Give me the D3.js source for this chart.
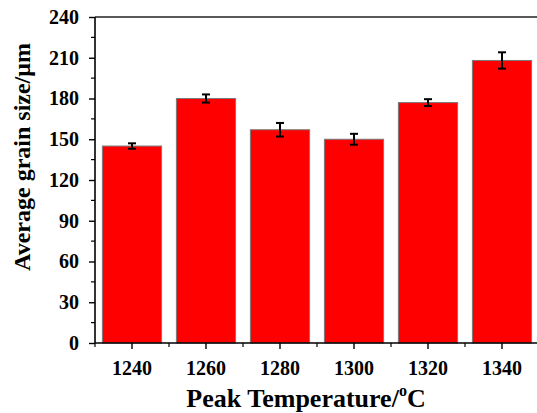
<!DOCTYPE html>
<html>
<head>
<meta charset="utf-8">
<script src="https://cdn.jsdelivr.net/npm/d3@7"></script>
<style>
  html, body { margin: 0; padding: 0; background: #fff; }
  svg { display: block; overflow: hidden; }
  text { font-family: "Liberation Serif", "Times New Roman", serif; font-weight: bold; fill: #000; }
</style>
</head>
<body>
<svg id="chart" width="537" height="413"></svg>
<script>
// Peak temperature (°C) vs. average grain size (μm) with standard deviation
const temperatures = ["1240", "1260", "1280", "1300", "1320", "1340"];
const grainSize = [145, 180, 157, 150, 177, 208];
const grainError = [2, 3, 5, 4, 2.5, 6];
const yTicks = [0, 30, 60, 90, 120, 150, 180, 210, 240];
const yMinorTicks = [15, 45, 75, 105, 135, 165, 195, 225];

const svg = d3.select("#chart");
const plotLeft = 95, plotRight = 539, plotTop = 17, plotBottom = 343;

const x = d3.scaleBand()
  .domain(temperatures)
  .range([plotLeft, plotRight])
  .paddingInner(0.2)
  .paddingOuter(0.1);

const y = d3.scaleLinear().domain([0, 240]).range([plotBottom, plotTop]);

// bars
svg.append("g").selectAll("rect")
  .data(temperatures)
  .join("rect")
  .attr("x", d => x(d))
  .attr("y", (d, i) => y(grainSize[i]))
  .attr("width", x.bandwidth())
  .attr("height", (d, i) => y(0) - y(grainSize[i]))
  .attr("fill", "#ff0000")
  .attr("stroke", "#7a7a7a")
  .attr("stroke-width", 1);

// error bars
const eb = svg.append("g").attr("stroke", "#000").attr("stroke-width", 2);
temperatures.forEach((d, i) => {
  const cx = x(d) + x.bandwidth() / 2;
  const hi = y(grainSize[i] + grainError[i]);
  const lo = y(grainSize[i] - grainError[i]);
  eb.append("line").attr("x1", cx).attr("x2", cx).attr("y1", hi).attr("y2", lo);
  eb.append("line").attr("x1", cx - 4).attr("x2", cx + 4).attr("y1", hi).attr("y2", hi);
  eb.append("line").attr("x1", cx - 4).attr("x2", cx + 4).attr("y1", lo).attr("y2", lo);
});

// top frame line
svg.append("line")
  .attr("x1", plotLeft).attr("x2", plotRight + 5)
  .attr("y1", plotTop).attr("y2", plotTop)
  .attr("stroke", "#222").attr("stroke-width", 1.6);

// y axis
const yAxis = svg.append("g").attr("transform", `translate(${plotLeft},0)`);
yAxis.call(d3.axisLeft(y).tickValues(yTicks).tickSize(6).tickPadding(10));
yAxis.selectAll(".domain").remove();
yAxis.append("line").attr("x1", 0).attr("x2", 0).attr("y1", plotTop).attr("y2", plotBottom)
  .attr("stroke", "#000").attr("stroke-width", 1.6);
yAxis.selectAll(".tick line").attr("stroke", "#000").attr("stroke-width", 1.4);
yAxis.selectAll(".tick text").attr("font-size", 20)
  .style("font-family", "'Liberation Serif', 'Times New Roman', serif")
  .style("font-weight", "bold");
yAxis.selectAll(".minor").data(yMinorTicks).join("line")
  .attr("class", "minor")
  .attr("x1", -4).attr("x2", 0)
  .attr("y1", d => y(d)).attr("y2", d => y(d))
  .attr("stroke", "#000").attr("stroke-width", 1.2);

// x axis
const xAxis = svg.append("g").attr("transform", `translate(0,${plotBottom})`);
xAxis.call(d3.axisBottom(x).tickSize(6).tickPadding(12));
xAxis.selectAll(".domain").remove();
xAxis.append("line").attr("x1", plotLeft).attr("x2", plotRight + 5).attr("y1", 0).attr("y2", 0)
  .attr("stroke", "#000").attr("stroke-width", 1.6);
xAxis.selectAll(".tick line").attr("stroke", "#000").attr("stroke-width", 1.4);
xAxis.selectAll(".tick text").attr("font-size", 20)
  .style("font-family", "'Liberation Serif', 'Times New Roman', serif")
  .style("font-weight", "bold");
const boundaries = d3.range(temperatures.length + 1).map(i => plotLeft + i * x.step());
xAxis.selectAll(".minor").data(boundaries).join("line")
  .attr("class", "minor")
  .attr("x1", d => d).attr("x2", d => d)
  .attr("y1", 0).attr("y2", 4)
  .attr("stroke", "#000").attr("stroke-width", 1.2);

// axis titles
const xt = svg.append("text")
  .attr("x", 306).attr("y", 407)
  .attr("text-anchor", "middle")
  .attr("font-size", 26)
  .text("Peak Temperature/");
xt.append("tspan").attr("font-size", 16).attr("dy", -11).text("o");
xt.append("tspan").attr("dy", 11).text("C");

svg.append("text")
  .attr("transform", "translate(30,157) rotate(-90)")
  .attr("text-anchor", "middle")
  .attr("font-size", 24)
  .text("Average grain size/μm");
</script>
</body>
</html>
